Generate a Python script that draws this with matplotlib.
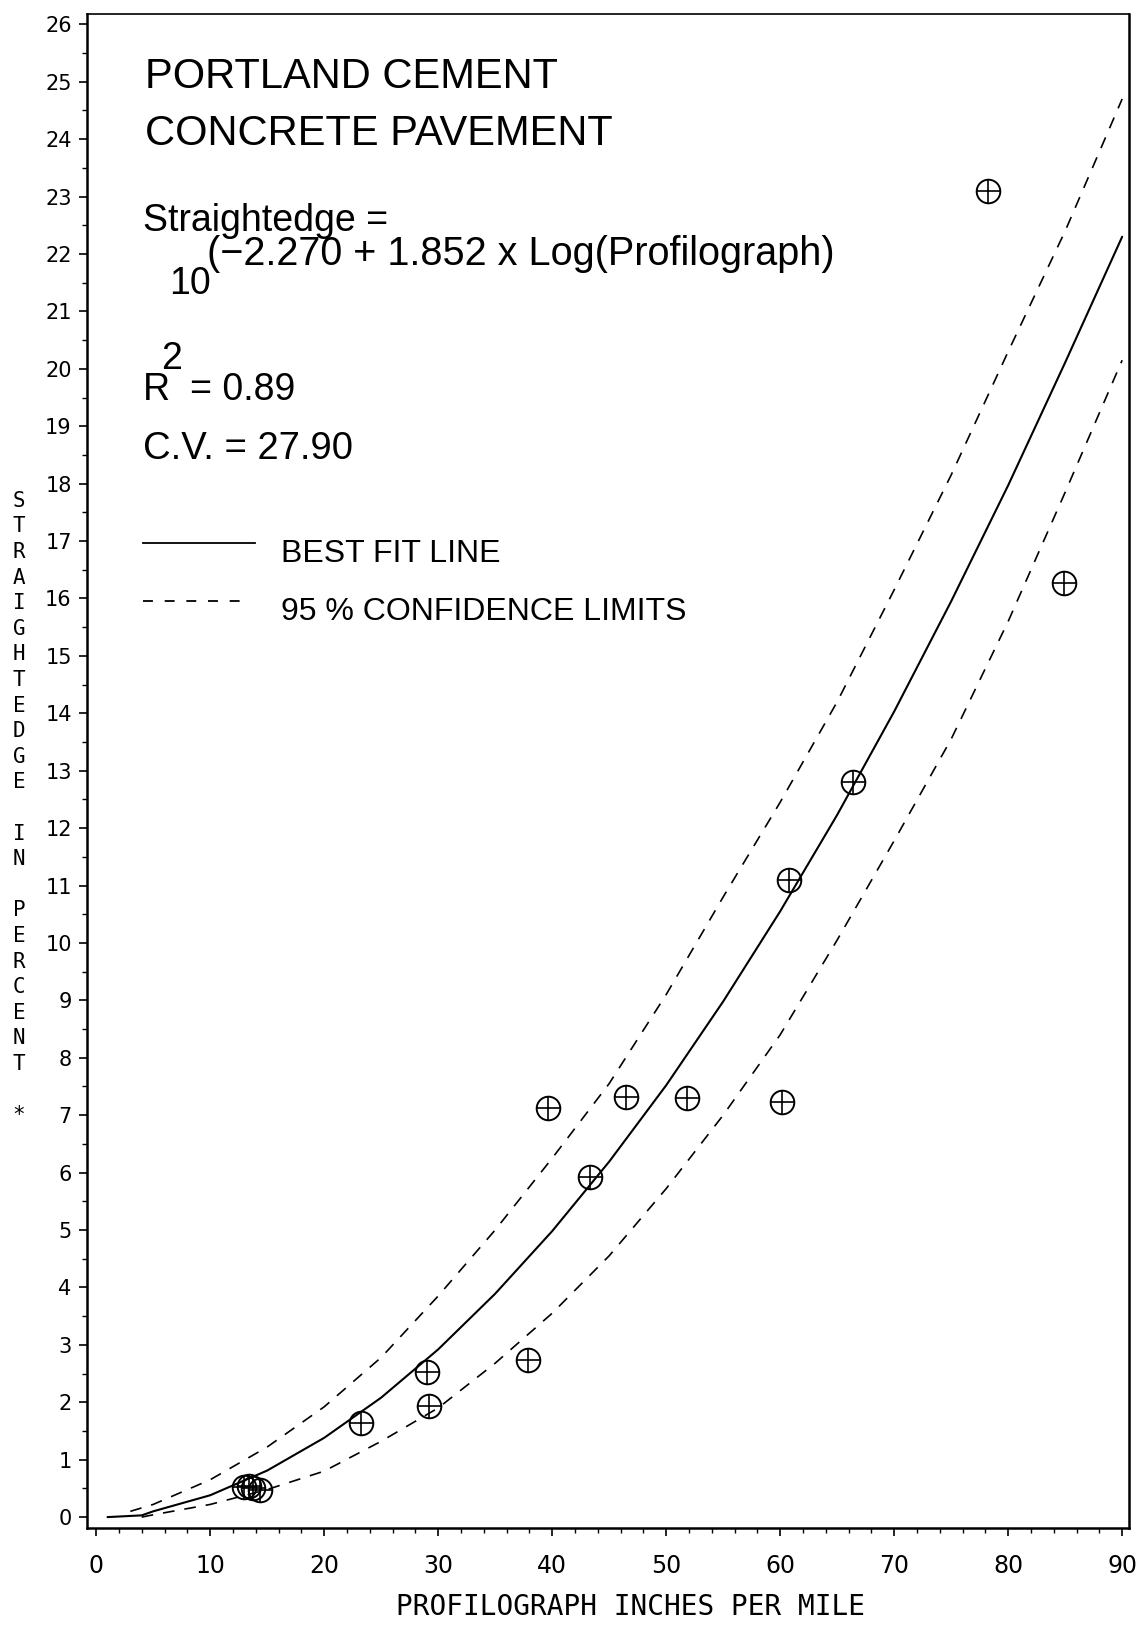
import matplotlib
matplotlib.use("Agg")
import matplotlib.pyplot as plt
from matplotlib.lines import Line2D

# ---- data ----
fit_x = [1, 4, 5, 10, 15, 20, 25, 30, 35, 40, 45, 50, 55, 60, 65, 70, 75, 80, 85, 90]
fit_y = [0.0, 0.03, 0.10, 0.38, 0.81, 1.38, 2.08, 2.92, 3.89, 4.98, 6.19, 7.52,
         8.98, 10.55, 12.23, 14.03, 15.95, 17.97, 20.11, 22.30]

upper_x = [3, 5, 10, 15, 20, 25, 30, 35, 40, 45, 50, 55, 60, 65, 70, 75, 80, 85, 90]
upper_y = [0.10, 0.22, 0.65, 1.22, 1.92, 2.78, 3.85, 5.00, 6.25, 7.55, 9.10, 10.80,
           12.45, 14.20, 16.15, 18.15, 20.30, 22.40, 24.70]

lower_x = [4, 5, 10, 15, 20, 25, 30, 35, 40, 45, 50, 55, 60, 65, 70, 75, 80, 85, 90]
lower_y = [0.0, 0.04, 0.22, 0.48, 0.80, 1.32, 1.90, 2.68, 3.55, 4.55, 5.72, 7.00,
           8.40, 10.05, 11.78, 13.55, 15.60, 17.85, 20.15]

obs_x = [78.2, 84.9, 66.4, 60.8, 39.6, 46.5, 51.8, 60.2, 43.3, 37.9, 29.0, 29.2, 23.2,
         13.0, 13.4, 13.8, 14.4]
obs_y = [23.1, 16.27, 12.80, 11.10, 7.12, 7.32, 7.30, 7.23, 5.92, 2.74, 2.53, 1.93, 1.64,
         0.52, 0.55, 0.50, 0.47]

x_ticks = list(range(0, 91, 10))
y_ticks = list(range(0, 27))

title_lines = ["PORTLAND CEMENT", "CONCRETE PAVEMENT"]
x_label = "PROFILOGRAPH INCHES PER MILE"
y_label = "STRAIGHTEDGE IN PERCENT *"

W, H = 1143, 1630
fig = plt.figure(figsize=(W / 100, H / 100), dpi=100)
ax = fig.add_axes([87 / W, 1 - 1528 / H, (1129 - 87) / W, (1528 - 14) / H])
ax.set_xlim(-0.8, 90.6)
ax.set_ylim(-0.19, 26.18)

ax.plot(fit_x, fit_y, color="black", lw=1.5, solid_capstyle="round")
ax.plot(upper_x, upper_y, color="black", lw=1.2, dashes=(7, 6))
ax.plot(lower_x, lower_y, color="black", lw=1.2, dashes=(7, 6))

ax.plot(obs_x, obs_y, linestyle="none", marker="o", ms=17, mfc="none",
        mec="black", mew=1.4)
ax.plot(obs_x, obs_y, linestyle="none", marker="+", ms=17, mec="black", mew=1.2)

ax.set_xticks(x_ticks)
ax.set_xticks(list(range(0, 91, 2)), minor=True)
ax.set_yticks(y_ticks)
ax.set_yticks([v / 2 for v in range(0, 53)], minor=True)
ax.set_xticklabels([str(v) for v in x_ticks], fontsize=17, family="DejaVu Sans")
ax.set_yticklabels([str(v) for v in y_ticks], fontsize=15, family="DejaVu Sans")
ax.tick_params(axis="both", which="major", direction="out", length=6, width=1.2)
ax.tick_params(axis="both", which="minor", direction="out", length=3.5, width=1.0)
ax.tick_params(axis="x", which="major", pad=13)
ax.tick_params(axis="y", which="major", pad=5)
for s in ax.spines.values():
    s.set_linewidth(1.8)
ax.spines["top"].set_linewidth(1.2)

def fx(px):
    return px / W

def fy(py):
    return 1 - py / H

tf = "Liberation Sans"
fig.text(fx(145), fy(88), title_lines[0], fontsize=30, family=tf, va="baseline")
fig.text(fx(145), fy(145), title_lines[1], fontsize=30, family=tf, va="baseline")
fig.text(fx(143), fy(231), "Straightedge =", fontsize=27, family=tf, va="baseline")
fig.text(fx(169), fy(294), "10", fontsize=27, family=tf, va="baseline")
fig.text(fx(207), fy(265), "(\u22122.270 + 1.852 x Log(Profilograph)", fontsize=28.5,
         family=tf, va="baseline")
fig.text(fx(143), fy(400), "R", fontsize=27, family=tf, va="baseline")
fig.text(fx(161), fy(369), "2", fontsize=27, family=tf, va="baseline")
fig.text(fx(190), fy(400), "= 0.89", fontsize=27, family=tf, va="baseline")
fig.text(fx(143), fy(459), "C.V. = 27.90", fontsize=27.5, family=tf, va="baseline")

fig.add_artist(Line2D([fx(143), fx(255)], [fy(543), fy(543)], color="black", lw=1.3,
                      transform=fig.transFigure))
fig.add_artist(Line2D([fx(143), fx(250)], [fy(601), fy(601)], color="black", lw=1.3,
                      dashes=(5.5, 6.5), transform=fig.transFigure))
fig.text(fx(281), fy(562), "BEST FIT LINE", fontsize=23, family=tf, va="baseline")
fig.text(fx(281), fy(620), "95 % CONFIDENCE LIMITS", fontsize=23, family=tf,
         va="baseline")

fig.text(fx(630), fy(1607), x_label, fontsize=20, family="DejaVu Sans Mono",
         ha="center", va="center")
fig.text(fx(19), fy(808), "\n".join(y_label), fontsize=15, family="DejaVu Sans Mono",
         ha="center", va="center", linespacing=1.35)

fig.savefig("out.png", dpi=100, facecolor="white")
